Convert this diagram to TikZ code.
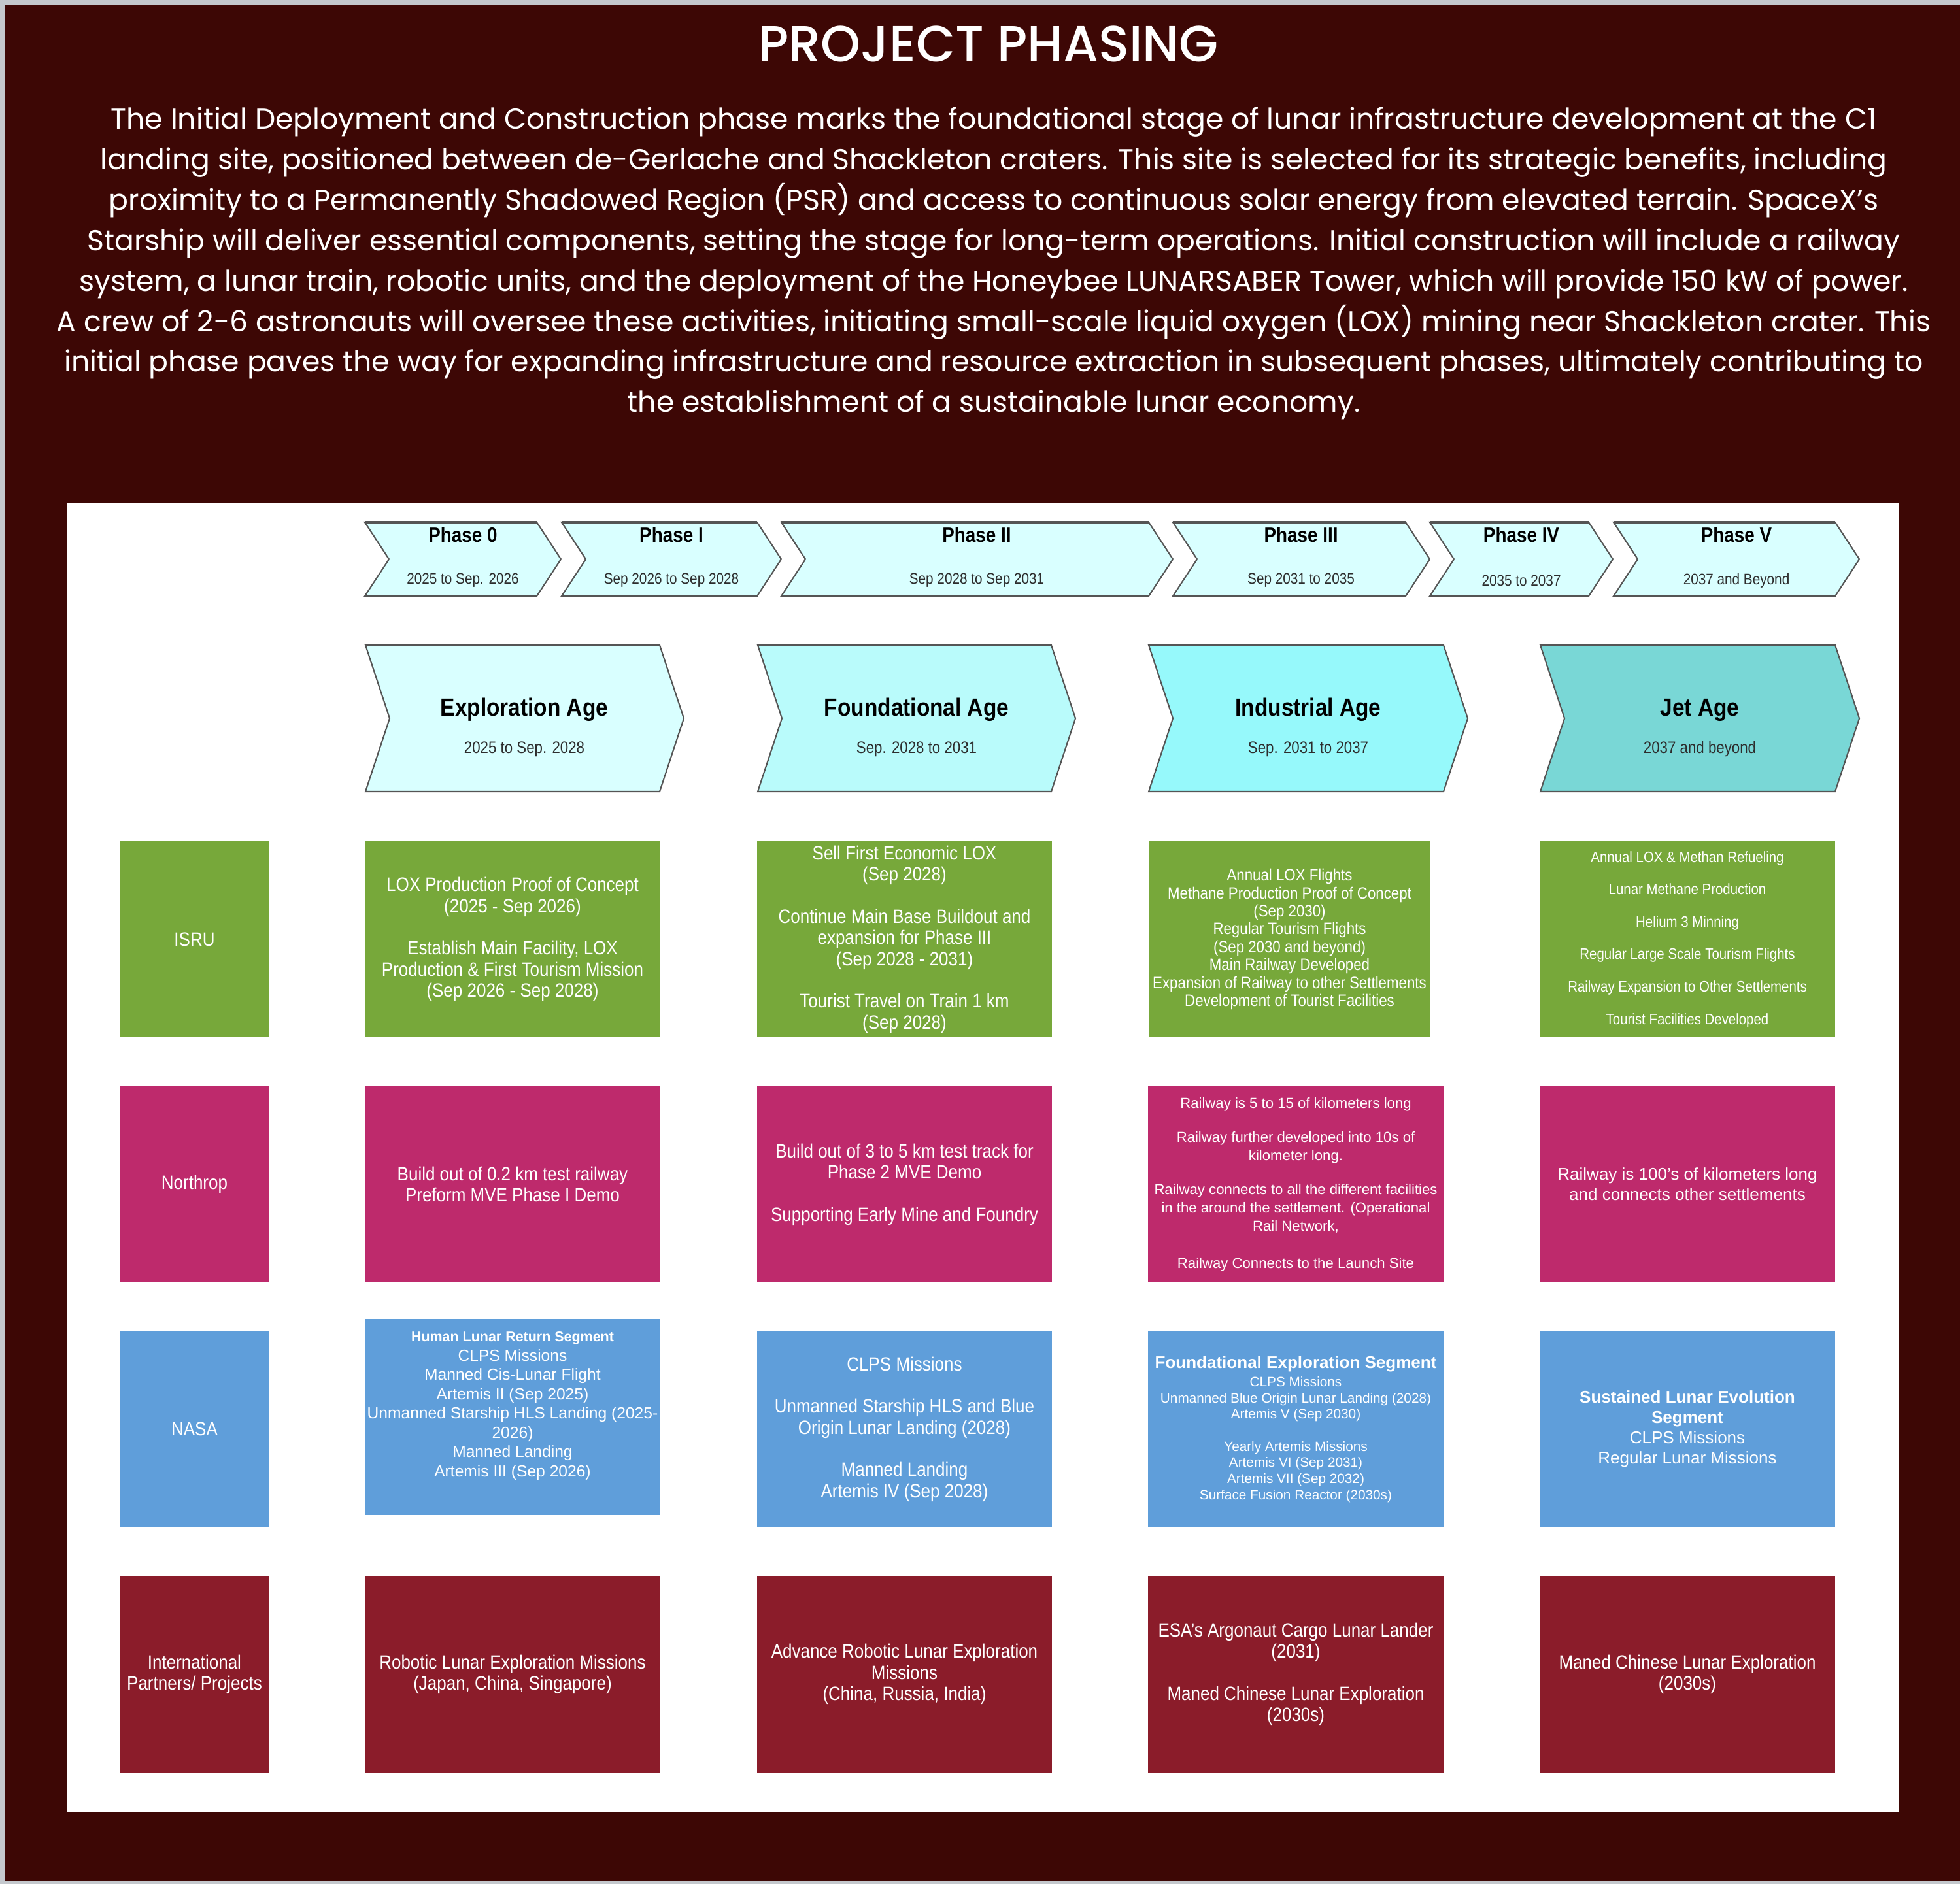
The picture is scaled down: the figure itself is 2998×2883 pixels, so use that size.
\documentclass[tikz,border=0pt]{standalone}
\usepackage{fontspec}
\setmainfont{Liberation Sans}
\newfontfamily\headfont{Poppins}
\newfontfamily\titlefont{Poppins}[UprightFont={* Medium}]
\newfontfamily\boxfont{Liberation Sans}[FakeStretch=0.88]
\newfontfamily\plainfont{Liberation Sans}

\definecolor{framegray}{RGB}{196,200,205}
\definecolor{maroonbg}{RGB}{61,7,5}
\definecolor{chevline}{RGB}{85,85,85}
\definecolor{datecol}{RGB}{45,45,45}
\definecolor{phasefill}{RGB}{217,255,255}
\definecolor{agefillA}{RGB}{217,255,255}
\definecolor{agefillB}{RGB}{185,251,251}
\definecolor{agefillC}{RGB}{150,249,251}
\definecolor{agefillD}{RGB}{121,215,214}
\definecolor{isrugreen}{RGB}{119,168,58}
\definecolor{northmag}{RGB}{190,42,108}
\definecolor{nasablue}{RGB}{95,158,218}
\definecolor{intlred}{RGB}{139,28,42}

% chevron: left x, tip x, top y, bottom y, fill colour
\newcommand\chevshape[5]{%
  \filldraw[chevedge, fill=#5] (#1,#3) -- ({#2-37},#3) -- (#2,{(#3+#4)/2})
    -- ({#2-37},#4) -- (#1,#4) -- ({#1+37},{(#3+#4)/2}) -- cycle;
  \draw[chevtop] (#1,#3) -- ({#2-37},#3);
}

\tikzset{
  chevedge/.style={draw=chevline, line width=0.6pt, line join=miter},
  chevtop/.style={draw=chevline, line width=1.2pt},
  phasetitle/.style={inner sep=0pt, text=black, font=\boxfont\bfseries\fontsize{9}{10}\selectfont},
  phasedate/.style={inner sep=0pt, text=datecol, font=\boxfont\fontsize{6.7}{8}\selectfont},
  agetitle/.style={inner sep=0pt, text=black, font=\boxfont\bfseries\fontsize{10.8}{12}\selectfont},
  agedate/.style={inner sep=0pt, text=datecol, font=\boxfont\fontsize{7.2}{8}\selectfont},
  cell/.style={rectangle, inner sep=0pt, minimum height=3cm, text=white, align=center,
    font=\boxfont\fontsize{8.4}{9.2}\selectfont},
  labelcell/.style={cell, minimum width=2.27cm},
  widecell/.style={cell, minimum width=4.51cm},
  isrucell/.style={fill=isrugreen},
  northcell/.style={fill=northmag},
  nasacell/.style={fill=nasablue},
  intlcell/.style={fill=intlred},
  smalltext/.style={font=\boxfont\fontsize{7.2}{7.8}\selectfont},
  tinytext/.style={font=\boxfont\fontsize{6.6}{7.1}\selectfont},
  plainsmall/.style={font=\plainfont\fontsize{6.3}{8.0}\selectfont},
  plainmid/.style={font=\plainfont\fontsize{7.4}{8.8}\selectfont},
  plainseven/.style={font=\plainfont\fontsize{7.0}{8.4}\selectfont},
  plaintiny/.style={font=\plainfont\fontsize{5.9}{7.0}\selectfont},
  maintitle/.style={inner sep=0pt, text=white, font=\titlefont\fontsize{22.1}{26}\selectfont},
  paratext/.style={inner sep=0pt, text=white, align=center, font=\headfont\fontsize{12.55}{17.6}\selectfont},
}

\begin{document}
\begin{tikzpicture}[x=0.01cm, y=-0.01cm]
\useasboundingbox (0,0) rectangle (2998,2883);

% frame and dark background
\fill[framegray] (0,0) rectangle (2998,2883);
\fill[maroonbg] (8,8) rectangle (2998,2878);

% heading and introduction
\node[maintitle] (title) at (1512,67) {PROJECT PHASING};
\node[paratext] (intro) at (1520,403) {The Initial Deployment and Construction phase marks the foundational stage of lunar infrastructure development at the C1\\
landing site, positioned between de-Gerlache and Shackleton craters. This site is selected for its strategic benefits, including\\
proximity to a Permanently Shadowed Region (PSR) and access to continuous solar energy from elevated terrain. SpaceX’s\\
Starship will deliver essential components, setting the stage for long-term operations. Initial construction will include a railway\\
system, a lunar train, robotic units, and the deployment of the Honeybee LUNARSABER Tower, which will provide 150 kW of power.\\
A crew of 2-6 astronauts will oversee these activities, initiating small-scale liquid oxygen (LOX) mining near Shackleton crater. This\\
initial phase paves the way for expanding infrastructure and resource extraction in subsequent phases, ultimately contributing to\\
the establishment of a sustainable lunar economy.};

% white chart panel
\fill[white] (103,769) rectangle (2904,2772);

% phase chevrons
\chevshape{558}{858}{799}{912}{phasefill}
\chevshape{859}{1195}{799}{912}{phasefill}
\chevshape{1195}{1794}{799}{912}{phasefill}
\chevshape{1794}{2187}{799}{912}{phasefill}
\chevshape{2187}{2467}{799}{912}{phasefill}
\chevshape{2468}{2844}{799}{912}{phasefill}

\node[phasetitle] (p0t) at (708,818) {Phase 0};
\node[phasedate]  (p0d) at (708,888) {2025 to Sep. 2026};
\node[phasetitle] (p1t) at (1027,818) {Phase I};
\node[phasedate]  (p1d) at (1027,888) {Sep 2026 to Sep 2028};
\node[phasetitle] (p2t) at (1494,818) {Phase II};
\node[phasedate]  (p2d) at (1494,888) {Sep 2028 to Sep 2031};
\node[phasetitle] (p3t) at (1990,818) {Phase III};
\node[phasedate]  (p3d) at (1990,888) {Sep 2031 to 2035};
\node[phasetitle] (p4t) at (2327,818) {Phase IV};
\node[phasedate]  (p4d) at (2327,888) {2035 to 2037};
\node[phasetitle] (p5t) at (2656,818) {Phase V};
\node[phasedate]  (p5d) at (2656,888) {2037 and Beyond};

% age chevrons
\chevshape{559}{1046}{987}{1211}{agefillA}
\chevshape{1159}{1645}{987}{1211}{agefillB}
\chevshape{1757}{2245}{987}{1211}{agefillC}
\chevshape{2356}{2844}{987}{1211}{agefillD}

\node[agetitle] (a1t) at (802,1086) {Exploration Age};
\node[agedate]  (a1d) at (802,1146) {2025 to Sep. 2028};
\node[agetitle] (a2t) at (1402,1086) {Foundational Age};
\node[agedate]  (a2d) at (1402,1146) {Sep. 2028 to 2031};
\node[agetitle] (a3t) at (2001,1086) {Industrial Age};
\node[agedate]  (a3d) at (2001,1146) {Sep. 2031 to 2037};
\node[agetitle] (a4t) at (2600,1086) {Jet Age};
\node[agedate]  (a4d) at (2600,1146) {2037 and beyond};

% ISRU row
\node[labelcell, isrucell] (isrul) at (297.5,1437) {ISRU};
\node[widecell, isrucell] (isru1) at (784,1437) {LOX Production Proof of Concept\\(2025 - Sep 2026)\\[9.2pt]Establish Main Facility, LOX\\Production \& First Tourism Mission\\(Sep 2026 - Sep 2028)};
\node[widecell, isrucell] (isru2) at (1383.5,1437) {Sell First Economic LOX\\(Sep 2028)\\[9.2pt]Continue Main Base Buildout and\\expansion for Phase III\\(Sep 2028 - 2031)\\[9.2pt]Tourist Travel on Train 1 km\\(Sep 2028)};
\node[cell, isrucell, smalltext, minimum width=4.31cm] (isru3) at (1972.5,1437) {Annual LOX Flights\\Methane Production Proof of Concept\\(Sep 2030)\\Regular Tourism Flights\\(Sep 2030 and beyond)\\Main Railway Developed\\Expansion of Railway to other Settlements\\Development of Tourist Facilities};
\node[widecell, isrucell, tinytext] (isru4) at (2581,1437) {Annual LOX \& Methan Refueling\\[7pt]Lunar Methane Production\\[7pt]Helium 3 Minning\\[7pt]Regular Large Scale Tourism Flights\\[7pt]Railway Expansion to Other Settlements\\[7pt]Tourist Facilities Developed};

% Northrop row
\node[labelcell, northcell] (northl) at (297.5,1812) {Northrop};
\node[widecell, northcell] (north1) at (784,1812) {Build out of 0.2 km test railway\\Preform MVE Phase I Demo};
\node[widecell, northcell] (north2) at (1383.5,1812) {Build out of 3 to 5 km test track for\\Phase 2 MVE Demo\\[9.2pt]Supporting Early Mine and Foundry};
\node[widecell, northcell, plainsmall] (north3) at (1982,1812) {Railway is 5 to 15 of kilometers long\\[6.8pt]Railway further developed into 10s of\\kilometer long.\\[6.8pt]Railway connects to all the different facilities\\in the around the settlement. (Operational\\Rail Network,\\[8pt]Railway Connects to the Launch Site};
\node[widecell, northcell, plainmid] (north4) at (2581,1812) {Railway is 100’s of kilometers long\\and connects other settlements};

% NASA row
\node[labelcell, nasacell] (nasal) at (297.5,2186.5) {NASA};
\node[widecell, nasacell] (nasa1) at (784,2168) {};
\node[inner sep=0pt, text=white, align=center, plainseven] (nasa1t) at (784,2151) {\textbf{\fontsize{6.1}{8.4}\selectfont Human Lunar Return Segment}\\CLPS Missions\\Manned Cis-Lunar Flight\\Artemis II (Sep 2025)\\Unmanned Starship HLS Landing (2025-\\2026)\\Manned Landing\\Artemis III (Sep 2026)};
\node[widecell, nasacell] (nasa2) at (1383.5,2186.5) {CLPS Missions\\[9.2pt]Unmanned Starship HLS and Blue\\Origin Lunar Landing (2028)\\[9.2pt]Manned Landing\\Artemis IV (Sep 2028)};
\node[widecell, nasacell, plaintiny] (nasa3) at (1982,2186.5) {\textbf{\fontsize{7.4}{8.5}\selectfont Foundational Exploration Segment}\\[1pt]CLPS Missions\\Unmanned Blue Origin Lunar Landing (2028)\\Artemis V (Sep 2030)\\[7pt]Yearly Artemis Missions\\Artemis VI (Sep 2031)\\Artemis VII (Sep 2032)\\Surface Fusion Reactor (2030s)};
\node[widecell, nasacell, plainmid] (nasa4) at (2581,2186.5) {\textbf{Sustained Lunar Evolution}\\\textbf{Segment}\\CLPS Missions\\Regular Lunar Missions};

% International row
\node[labelcell, intlcell] (intll) at (297.5,2561.5) {International\\Partners/ Projects};
\node[widecell, intlcell] (intl1) at (784,2561.5) {Robotic Lunar Exploration Missions\\(Japan, China, Singapore)};
\node[widecell, intlcell] (intl2) at (1383.5,2561.5) {Advance Robotic Lunar Exploration\\Missions\\(China, Russia, India)};
\node[widecell, intlcell] (intl3) at (1982,2561.5) {ESA’s Argonaut Cargo Lunar Lander\\(2031)\\[9.2pt]Maned Chinese Lunar Exploration\\(2030s)};
\node[widecell, intlcell] (intl4) at (2581,2561.5) {Maned Chinese Lunar Exploration\\(2030s)};
\end{tikzpicture}
\end{document}
